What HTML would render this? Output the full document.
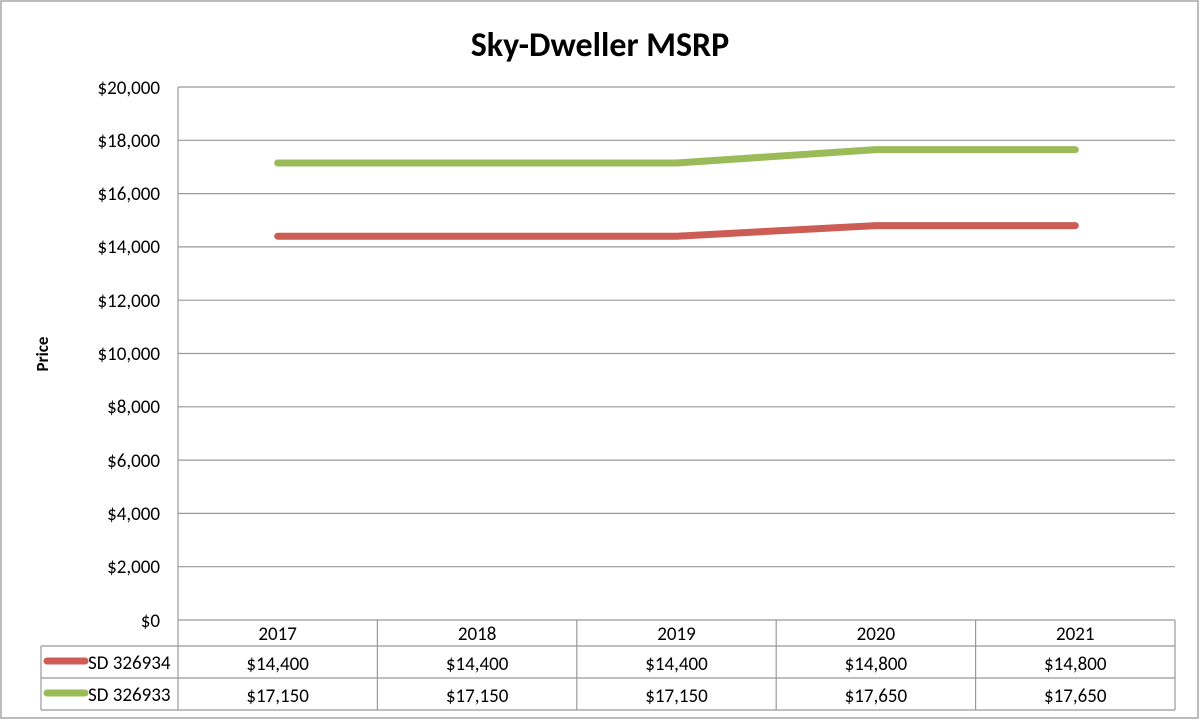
<!DOCTYPE html>
<html><head><meta charset="utf-8"><style>
html,body{margin:0;padding:0;background:#fff}
svg{display:block;font-family:"Carlito","Liberation Sans",sans-serif}
</style></head><body>
<svg width="1200" height="721" viewBox="0 0 1200 721" xmlns="http://www.w3.org/2000/svg">
<rect x="1" y="1" width="1197" height="717" fill="#fff" stroke="#a6a6a6" stroke-width="1.5"/>
<text x="600" y="56" text-anchor="middle" font-size="34" font-weight="bold" fill="#000">Sky-Dweller MSRP</text>
<text transform="translate(48,354) rotate(-90)" text-anchor="middle" font-size="17" font-weight="bold">Price</text>
<g stroke="#999" stroke-width="1.2" fill="none">
<line x1="178" y1="87" x2="1175" y2="87"/>
<line x1="178" y1="140.3" x2="1175" y2="140.3"/>
<line x1="178" y1="193.6" x2="1175" y2="193.6"/>
<line x1="178" y1="246.9" x2="1175" y2="246.9"/>
<line x1="178" y1="300.2" x2="1175" y2="300.2"/>
<line x1="178" y1="353.5" x2="1175" y2="353.5"/>
<line x1="178" y1="406.8" x2="1175" y2="406.8"/>
<line x1="178" y1="460.1" x2="1175" y2="460.1"/>
<line x1="178" y1="513.4" x2="1175" y2="513.4"/>
<line x1="178" y1="566.7" x2="1175" y2="566.7"/>
<line x1="178" y1="620" x2="1175" y2="620"/>
<line x1="178" y1="87" x2="178" y2="646"/>
<line x1="377.4" y1="620" x2="377.4" y2="710"/>
<line x1="576.8" y1="620" x2="576.8" y2="710"/>
<line x1="776.2" y1="620" x2="776.2" y2="710"/>
<line x1="975.6" y1="620" x2="975.6" y2="710"/>
<line x1="1175" y1="620" x2="1175" y2="710"/>
<line x1="41" y1="646" x2="1175" y2="646"/>
<line x1="41" y1="678" x2="1175" y2="678"/>
<line x1="41" y1="710" x2="1175" y2="710"/>
<line x1="41" y1="646" x2="41" y2="710"/>
<line x1="178" y1="646" x2="178" y2="710"/>
</g>
<g font-size="19" text-anchor="end" fill="#000">
<text x="160" y="94">$20,000</text>
<text x="160" y="147">$18,000</text>
<text x="160" y="200">$16,000</text>
<text x="160" y="253">$14,000</text>
<text x="160" y="307">$12,000</text>
<text x="160" y="360">$10,000</text>
<text x="160" y="413">$8,000</text>
<text x="160" y="467">$6,000</text>
<text x="160" y="520">$4,000</text>
<text x="160" y="573">$2,000</text>
<text x="160" y="627">$0</text>
</g>
<polyline points="277.7,236.2 477.1,236.2 676.5,236.2 875.9,225.6 1075.3,225.6" fill="none" stroke="#cd5c55" stroke-width="7" stroke-linecap="round" stroke-linejoin="round"/>
<polyline points="277.7,163 477.1,163 676.5,163 875.9,149.6 1075.3,149.6" fill="none" stroke="#9bbb59" stroke-width="7" stroke-linecap="round" stroke-linejoin="round"/>
<g font-size="19" text-anchor="middle">
<text x="277.7" y="640">2017</text><text x="477.1" y="640">2018</text><text x="676.5" y="640">2019</text><text x="875.9" y="640">2020</text><text x="1075.3" y="640">2021</text>
<text x="277.7" y="670">$14,400</text><text x="477.1" y="670">$14,400</text><text x="676.5" y="670">$14,400</text><text x="875.9" y="670">$14,800</text><text x="1075.3" y="670">$14,800</text>
<text x="277.7" y="702">$17,150</text><text x="477.1" y="702">$17,150</text><text x="676.5" y="702">$17,150</text><text x="875.9" y="702">$17,650</text><text x="1075.3" y="702">$17,650</text>
</g>
<line x1="47" y1="661" x2="85" y2="661" stroke="#cd5c55" stroke-width="7" stroke-linecap="round"/>
<line x1="47" y1="693" x2="85" y2="693" stroke="#9bbb59" stroke-width="7" stroke-linecap="round"/>
<g font-size="19"><text x="88" y="669">SD 326934</text><text x="88" y="701">SD 326933</text></g>
</svg>
</body></html>
